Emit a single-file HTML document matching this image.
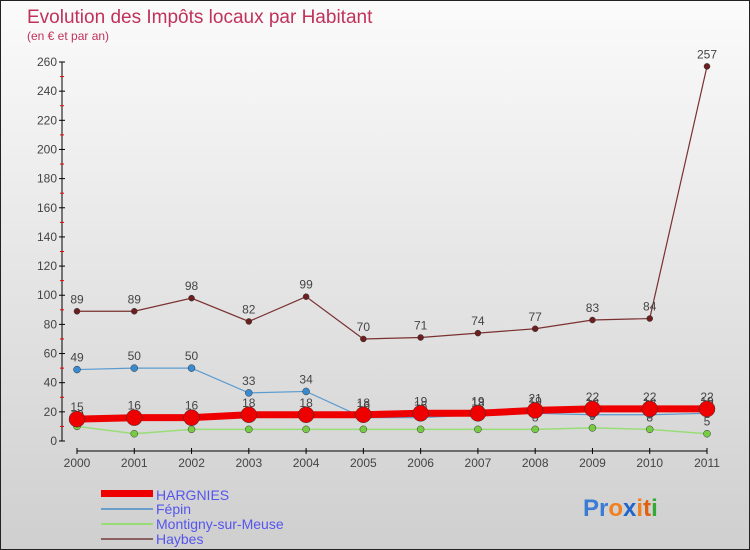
<!DOCTYPE html>
<html><head><meta charset="utf-8"><style>
body{margin:0;}
#wrap{width:750px;height:550px;position:relative;overflow:hidden;background:linear-gradient(#fbfbfb,#cfcfcf);box-sizing:border-box;border:1px solid #222;font-family:"Liberation Sans",sans-serif;}
</style></head><body>
<div id="wrap">
<svg id="svg" width="750" height="550" style="position:absolute;left:0;top:0">
<text x="26" y="22" font-size="19" fill="#c0325a">Evolution des Impôts locaux par Habitant</text>
<text x="26" y="39" font-size="12" fill="#c0325a">(en € et par an)</text>
<g id="axes"></g><g id="series"></g>
<g>
<rect x="100" y="489" width="52" height="7" fill="#e00"/>
<text x="155" y="499" font-size="14" fill="#5555ee">HARGNIES</text>
<line x1="100" x2="152" y1="508" y2="508" stroke="#6b9fc9" stroke-width="2"/>
<text x="155" y="513" font-size="14" fill="#5555ee">Fépin</text>
<line x1="100" x2="152" y1="523" y2="523" stroke="#99dd77" stroke-width="2"/>
<text x="155" y="528" font-size="14" fill="#5555ee">Montigny-sur-Meuse</text>
<line x1="100" x2="152" y1="538" y2="538" stroke="#8a6060" stroke-width="2"/>
<text x="155" y="543" font-size="14" fill="#5555ee">Haybes</text>
</g>
<text x="582" y="515" font-size="24" font-weight="bold"><tspan fill="#3a7bd5">P</tspan><tspan fill="#3a7bd5">r</tspan><tspan fill="#f08020">o</tspan><tspan fill="#2266cc">x</tspan><tspan fill="#f08020">i</tspan><tspan fill="#e06010">t</tspan><tspan fill="#33aa33">i</tspan></text>
</svg>
</div>
<script>
const years=[2000,2001,2002,2003,2004,2005,2006,2007,2008,2009,2010,2011];
const hargnies=[15,16,16,18,18,18,19,19,21,22,22,22];
const fepin=[49,50,50,33,34,16,16,18,19,18,18,19];
const montigny=[10,5,8,8,8,8,8,8,8,9,8,5];
const haybes=[89,89,98,82,99,70,71,74,77,83,84,257];
const yTicks=[0,20,40,60,80,100,120,140,160,180,200,220,240,260];
const NS="http://www.w3.org/2000/svg";
const X=i=>76+i*(706-76)/(years.length-1);
const Y=v=>440-v*(440-61)/260;
function mk(t,a,p){const e=document.createElementNS(NS,t);for(const k in a)e.setAttribute(k,a[k]);p.appendChild(e);return e;}
const ax=document.getElementById('axes');
let l=mk('line',{x1:61,x2:61,y1:61,y2:440,stroke:'#000'},ax);

l=mk('line',{x1:76,x2:706,y1:450,y2:450,stroke:'#000'},ax);

yTicks.forEach((v,i)=>{
 let t=mk('line',{x1:58,x2:64,y1:Y(v),y2:Y(v),stroke:'#000'},ax);
 
 if(i<yTicks.length-1){let m=mk('line',{x1:59,x2:63,y1:Y(v+10),y2:Y(v+10),stroke:'#e00'},ax);
 }
 let tx=mk('text',{x:56,y:Y(v)+4,'text-anchor':'end','font-size':12,fill:'#444'},ax);tx.textContent=v;
 
});
years.forEach((yr,i)=>{
 let t=mk('line',{x1:X(i),x2:X(i),y1:447,y2:453,stroke:'#000'},ax);
 
 let tx=mk('text',{x:X(i),y:466,'text-anchor':'middle','font-size':12,fill:'#444'},ax);tx.textContent=yr;
 
});
const sg=document.getElementById('series');
function series(name,vals,color,w,r,fill){
 const g=mk('g',{},sg);
 
 let p=mk('polyline',{points:vals.map((v,i)=>X(i)+','+Y(v)).join(' '),fill:'none',stroke:color,'stroke-width':w},g);
 
 vals.forEach((v,i)=>{
  let c=mk('circle',{cx:X(i),cy:Y(v),r:r,fill:fill,stroke:'#333','stroke-width':0.5},g);
  
  let t=mk('text',{x:X(i),y:Y(v)-8,'text-anchor':'middle','font-size':12,fill:'#444'},g);t.textContent=v;
  
 });
}
series('haybes',haybes,'#7a3030',1.2,3,'#6b1f1f');
series('fepin',fepin,'#5a9bd0',1.2,3.5,'#3a8ad0');
series('montigny',montigny,'#99dd77',1.5,3.5,'#77cc44');
series('hargnies',hargnies,'#e00',7,8,'#e00');
</script>
</body></html>
